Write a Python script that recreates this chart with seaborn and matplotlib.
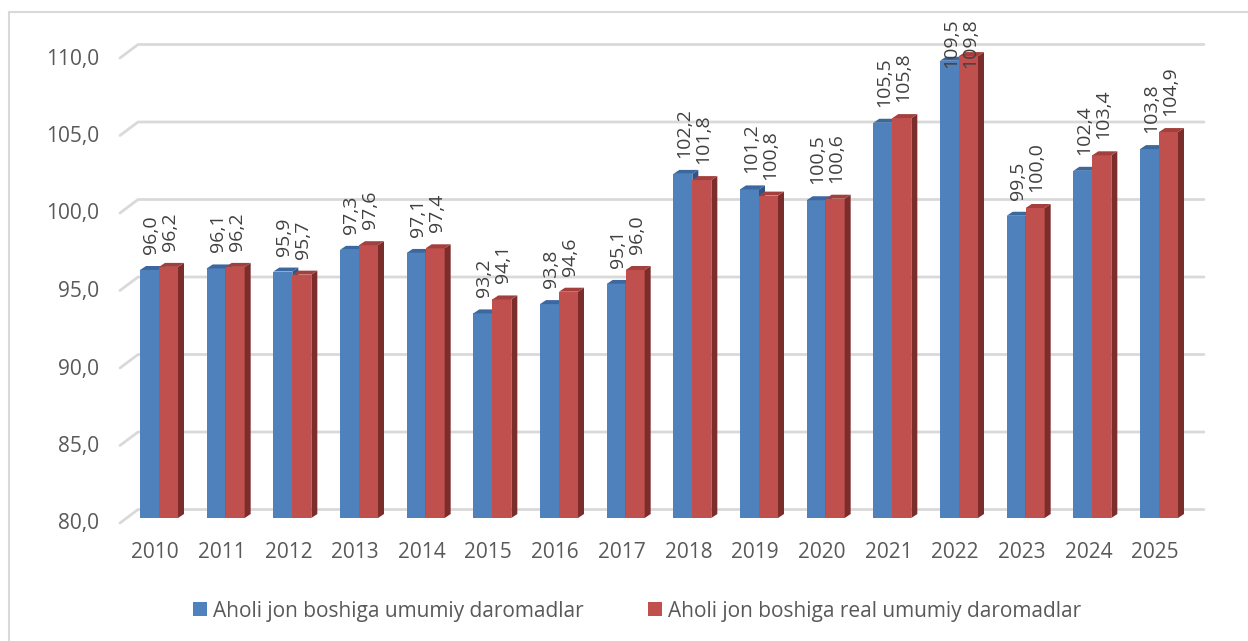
import matplotlib
matplotlib.use("Agg")
import matplotlib.pyplot as plt
import matplotlib.transforms as mtransforms
from matplotlib.patches import Polygon, Patch, Rectangle
import seaborn as sns
import pandas as pd

# ---- data ----
years = [str(y) for y in range(2010, 2026)]
nominal = [96.0, 96.1, 95.9, 97.3, 97.1, 93.2, 93.8, 95.1,
           102.2, 101.2, 100.5, 105.5, 109.5, 99.5, 102.4, 103.8]
real = [96.2, 96.2, 95.7, 97.6, 97.4, 94.1, 94.6, 96.0,
        101.8, 100.8, 100.6, 105.8, 109.8, 100.0, 103.4, 104.9]
series_names = ["Aholi jon boshiga umumiy daromadlar",
                "Aholi jon boshiga real umumiy daromadlar"]
y_ticks = [80, 85, 90, 95, 100, 105, 110]

df = pd.DataFrame({
    "Yil": years * 2,
    "Qiymat": nominal + real,
    "Seriya": [series_names[0]] * len(years) + [series_names[1]] * len(years),
})

# ---- style ----
sns.set_theme(style="white")
plt.rcParams["font.family"] = ["Open Sans", "DejaVu Sans"]

BLUE, RED = "#4F81BD", "#C0504D"
BLUE_TOP, RED_TOP = "#3C68A0", "#A33F3C"
BLUE_SIDE, RED_SIDE = "#2F5587", "#7B2D2B"
GRID = "#D9D9D9"
TXT = "#595959"

W, H = 1248, 641
fig = plt.figure(figsize=(W / 100, H / 100), dpi=100)
ax_w, ax_h = 1084, 465
ax = fig.add_axes([120 / W, (H - 518) / H, ax_w / W, ax_h / H])

sns.barplot(data=df, x="Yil", y="Qiymat", hue="Seriya", palette=[BLUE, RED],
            width=0.57, gap=0, saturation=1, legend=False, linewidth=0, ax=ax)

xlo, xhi = -0.585, 15.675
ax.set_xlim(xlo, xhi)
ax.set_ylim(y_ticks[0], y_ticks[-1])
ax.axis("off")

px_x = ax_w / (xhi - xlo)          # pixels per category unit
px_y = ax_h / (y_ticks[-1] - y_ticks[0])  # pixels per value unit

# ---- 3D-ish back wall gridlines ----
blend = mtransforms.blended_transform_factory(ax.transAxes, ax.transData)
bx = 18 / ax_w
for v in y_ticks:
    ax.plot([0, bx, 1], [v - 5 / px_y, v + 8.5 / px_y, v + 8.5 / px_y],
            transform=blend, color=GRID, lw=2, clip_on=False, zorder=0)
    ax.text(-21 / ax_w, v - 6 / px_y, f"{v:.1f}".replace(".", ","),
            transform=blend, ha="right", va="center", fontsize=15, color=TXT)

# x labels
blend_x = mtransforms.blended_transform_factory(ax.transData, ax.transAxes)
for i, yr in enumerate(years):
    ax.text(i - 4 / px_x, -35 / ax_h, yr, transform=blend_x,
            ha="center", va="center", fontsize=15, color=TXT)

# ---- bar depth faces + value labels ----
dx, dy = 6 / px_x, 4 / px_y
base = y_ticks[0]
bars = [p for p in ax.patches if isinstance(p, Rectangle) and p.get_height() > 0]
n = len(years)
for k, p in enumerate(bars):
    first = k < n
    z = 2 if first else 3
    p.set_zorder(z)
    x0, w, top = p.get_x(), p.get_width(), p.get_height()
    side = Polygon([(x0 + w, base), (x0 + w + dx, base + dy), (x0 + w + dx, top + dy), (x0 + w, top)],
                   closed=True, fc=BLUE_SIDE if first else RED_SIDE, ec="none", zorder=z + 0.1, clip_on=False)
    lid = Polygon([(x0, top), (x0 + dx, top + dy), (x0 + w + dx, top + dy), (x0 + w, top)],
                  closed=True, fc=BLUE_TOP if first else RED_TOP, ec="none", zorder=z + 0.1, clip_on=False)
    ax.add_patch(side)
    ax.add_patch(lid)
    ly = min(top + 16 / px_y, 109.0)
    ax.text(x0 + w / 2 + 1.5 / px_x, ly, f"{top:.1f}".replace(".", ","),
            rotation=90, ha="center", va="bottom", fontsize=14, color="#404040",
            zorder=6, clip_on=False)

# ---- legend ----
handles = [Patch(fc=BLUE, ec="none"), Patch(fc=RED, ec="none")]
fig.legend(handles, series_names, loc="center", bbox_to_anchor=(637 / W, 1 - 611 / H),
           ncol=2, frameon=False, fontsize=15, handlelength=0.67, handleheight=0.67,
           handletextpad=0.3, columnspacing=3.1, labelcolor=TXT)

# chart area border
fig.patches.append(Rectangle((9 / W, -0.1), 1.2, (H - 12) / H + 0.1, transform=fig.transFigure,
                             fill=False, ec=GRID, lw=1.5))

fig.savefig("out.png", dpi=100)
